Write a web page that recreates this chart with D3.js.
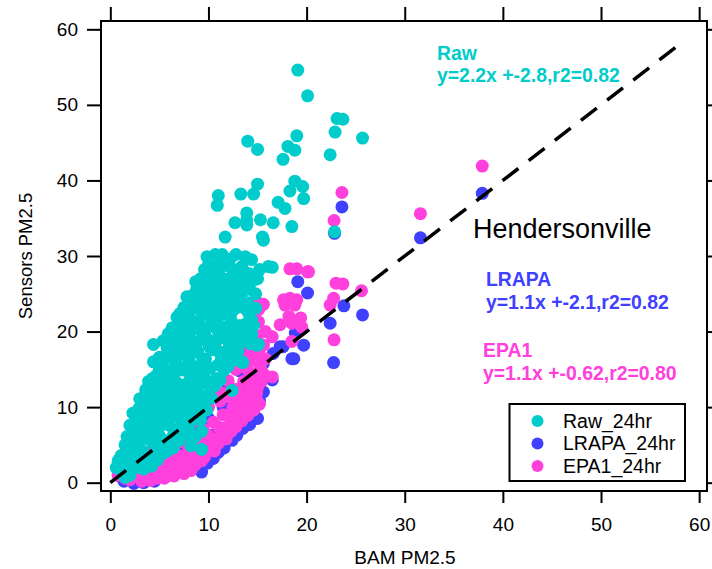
<!DOCTYPE html>
<html>
<head>
<meta charset="utf-8">
<script src="https://cdn.jsdelivr.net/npm/d3@7"></script>
<style>
  body { margin: 0; background: #fff; }
  text { font-family: "Liberation Sans", Arial, sans-serif; }
</style>
</head>
<body>
<div id="chart"></div>
<script>
// BAM vs sensor PM2.5, 24hr averages
const rawPts = [
  [0.8,2.8],[1.2,1.5],[1.6,2.4],[2.0,1.0],[2.2,3.2],[2.6,2.0],[3.0,2.8],[3.4,1.8],[1.1,3.6],[3.8,2.6],[4.2,2.2],[1.9,4.1],[1.5,0.7],[0.85,3.0],
  [1.4,2.0],[2.6,3.8],[3.5,3.4],[4.8,3.0],[5.8,4.2],[0.6,2.0],
  [1.5,5.0],[1.7,6.1],[2.4,4.6],[2.9,5.5],[3.3,4.2],[3.8,5.8],[4.4,3.6],[4.9,4.8],[5.4,3.9],[5.9,5.2],[2.3,6.8],[3.1,7.0],[4.2,6.6],[5.0,6.2],[6.4,4.6],[7.0,5.6],[8.2,4.9],[9.3,4.4],
  [1.9,5.6],[3.4,6.2],[4.4,5.2],[5.4,5.6],[6.4,6.2],[7.6,6.4],[8.6,6.0],[2.0,7.6],[3.8,7.6],[5.0,7.4],[6.8,7.0],[8.0,7.2],[9.3,6.8],
  [2.6,8.4],[3.4,8.7],[2.9,9.8],[3.9,9.4],[4.6,8.0],[5.3,9.0],[6.0,7.6],[6.6,8.8],[7.3,7.9],[7.8,9.6],[8.6,8.4],[9.2,8.3],[4.4,10.3],[5.8,10.6],[6.9,10.1],[8.3,10.4],[9.8,9.6],[3.0,11.1],
  [2.3,9.2],[3.2,10.2],[4.1,9.0],[5.0,10.0],[5.6,8.3],[6.3,9.6],[7.1,9.0],[7.4,10.8],[8.0,8.6],[8.9,9.3],[9.4,10.4],[3.6,10.8],[4.9,11.2],[6.3,11.2],[7.6,11.4],[8.8,11.0],[9.8,11.0],
  [3.6,12.3],[4.1,11.6],[4.8,12.8],[5.4,11.3],[6.2,12.4],[7.0,11.8],[7.7,13.0],[8.5,12.1],[9.3,11.5],[10.2,12.6],[10.3,11.2],[12.4,12.2],[3.9,13.4],[4.7,14.2],[5.5,13.9],[6.5,14.4],[7.4,14.9],[8.8,13.9],[9.6,14.6],[10.8,13.8],[11.6,14.9],
  [4.3,12.6],[5.2,12.0],[5.8,13.2],[6.8,13.2],[7.2,12.4],[8.1,13.6],[9.0,12.8],[9.8,13.4],[10.6,12.8],[11.2,13.6],[4.3,13.8],[5.0,15.0],[6.0,14.8],[6.9,15.4],[8.2,15.0],[9.0,15.4],[10.2,15.2],[11.0,15.6],[12.0,15.4],
  [4.4,16.0],[5.3,15.4],[5.8,16.6],[6.6,15.8],[7.2,17.0],[8.0,16.2],[8.9,17.4],[9.7,16.4],[10.5,17.6],[11.3,16.3],[12.6,16.2],[13.4,16.0],[13.5,15.9],[4.4,18.3],[5.8,17.8],[6.2,18.6],[7.9,18.6],[9.3,18.9],[10.9,18.9],[12.1,18.0],[13.0,17.4],[13.9,19.8],[13.6,19.8],[14.9,18.2],[15.1,18.3],
  [5.0,16.6],[6.2,17.2],[6.8,16.8],[7.6,17.8],[8.4,17.2],[9.4,16.2],[10.1,18.0],[11.0,17.4],[11.8,17.0],[12.4,17.6],[13.2,18.6],[14.2,18.4],[5.4,18.8],[7.0,18.2],[8.6,18.6],[9.9,19.0],[11.6,19.2],[12.6,19.4],[14.4,19.6],
  [5.9,19.7],[6.3,20.5],[6.8,19.4],[7.4,20.8],[8.2,20.0],[9.0,21.2],[9.8,20.4],[10.6,21.6],[11.5,20.6],[12.3,21.5],[13.2,20.8],[13.9,21.1],[6.8,21.9],[7.1,22.4],[8.0,22.6],[8.8,23.1],[9.7,22.8],[10.8,23.4],[11.8,22.8],[12.9,23.2],[14.1,22.4],[14.8,23.1],
  [6.4,19.8],[7.2,19.6],[8.6,20.6],[9.4,19.8],[10.2,20.8],[11.0,20.0],[12.0,20.2],[12.8,20.2],[14.6,20.8],[7.6,21.6],[8.4,21.4],[9.4,22.2],[10.2,22.0],[11.2,22.2],[12.4,22.6],[13.6,23.2],[14.4,21.6],
  [7.5,23.2],[8.4,23.8],[9.2,23.8],[10.2,24.0],[11.2,23.6],[12.2,24.0],[13.0,24.0],[14.0,23.8],
  [7.8,24.6],[8.4,24.8],[9.2,25.3],[9.85,24.4],[10.6,25.0],[11.5,24.6],[12.4,25.4],[13.3,24.8],[14.2,25.6],[8.7,26.6],[9.6,26.2],[10.7,26.9],[11.6,26.2],[12.5,26.9],[13.6,26.4],[14.6,26.8],[14.3,26.8],
  [8.8,25.6],[10.0,25.6],[11.0,25.8],[11.9,25.4],[12.8,26.0],[13.8,25.6],[14.8,25.0],[9.2,27.0],[10.2,26.6],[11.2,27.2],[12.0,27.0],[13.4,27.2],[15.0,27.0],
  [9.6,28.2],[10.4,27.6],[11.2,28.4],[12.2,28.6],[12.9,27.7],[14.1,27.7],[13.9,27.5],[12.5,27.3],[16.1,28.6],[16.5,28.5],[9.85,29.9],[10.7,30.2],[12.8,30.2],[13.75,29.9],[14.4,29.5],
  [10.0,28.8],[10.8,28.6],[11.6,29.2],[13.4,28.6],[15.2,28.2],[11.4,30.2],[12.2,29.6],
  [11.7,32.5],[15.5,32.5],[15.6,32.1],[12.7,34.4],[13.9,34.8],[13.9,34.1],[15.3,34.8],[16.6,34.4],[18.5,33.9],[13.9,35.7],[17.1,37.1],[17.8,36.3],
  [11.0,38.0],[10.9,36.7],[13.3,38.2],[14.6,38.2],[15.0,39.5],[18.3,38.6],[19.7,37.6],[18.8,39.9],[19.6,39.2],[17.6,42.8],[18.1,44.5],[18.8,44.0],
  [19.0,45.9],[14.0,45.2],[15.0,44.1],[22.4,43.4],[22.9,46.4],[23.1,48.2],[23.7,48.1],[25.7,45.6],[19.1,54.6],[20.1,51.2],[22.85,33.2]
];

const lrapaPts = [
  [0.9,0.9],[1.4,0.2],[1.9,0.5],[2.4,-0.1],[2.9,0.4],[3.4,0.0],[3.9,0.6],[4.5,0.2],[5.1,1.4],[5.7,1.6],[6.3,1.9],[6.9,2.0],[7.5,2.3],[8.1,2.4],[8.7,2.8],[9.3,1.4],
  [9.9,2.6],[10.5,3.2],[11.0,4.0],[11.6,4.6],[12.4,5.6],[12.9,6.3],[13.5,7.2],[14.2,7.7],[15.0,8.5],[14.6,9.6],[15.2,10.8],[15.6,12.0],[16.0,14.0],[16.5,13.6],
  [15.4,16.2],[15.6,15.8],[16.6,17.1],[17.3,18.0],[17.6,18.0],[18.5,16.4],[18.7,16.4],[19.7,18.2],[18.85,19.8],[14.9,19.3],[14.2,17.5],
  [2.5,1.5],[3.5,2.0],[4.5,2.6],[5.5,3.1],[6.5,3.6],[7.5,4.2],[8.5,4.8],[9.5,5.5],[10.5,6.3],[11.5,7.2],[12.5,8.1],[13.5,9.2],[14.0,10.5],
  [4.0,4.0],[5.5,5.0],[7.0,6.2],[8.5,7.3],[10.0,8.5],[11.5,10.0],[12.8,11.2],[13.8,12.6],[14.6,13.8],[9.0,10.2],[10.5,11.6],[12.0,13.0],[13.2,14.8],[14.0,16.0],
  [19.1,26.6],[20.1,25.1],[22.4,21.1],[22.75,15.9],[23.8,23.4],[25.7,22.2],[23.6,36.5],[22.85,33.0],[31.6,32.4],[37.9,38.3]
];

const epa1Pts = [
  [0.8,1.0],[1.5,0.6],[2.2,1.4],[3.0,0.8],[3.6,1.6],[4.1,0.3],[4.6,1.2],[5.2,1.9],[5.8,1.4],[6.4,2.4],[7.0,2.0],[7.5,1.2],[8.0,2.8],[8.6,2.3],[9.2,3.0],[9.3,2.9],
  [9.8,4.1],[10.2,5.2],[10.8,5.8],[11.4,6.6],[12.0,7.4],[12.6,8.3],[13.2,9.0],[13.8,9.8],[14.4,10.4],[14.9,10.9],[14.9,11.8],[14.3,12.6],[13.6,13.4],[14.8,13.8],
  [16.5,14.0],[15.3,15.2],[14.6,16.2],[15.1,17.4],[16.5,19.3],[15.0,19.4],[15.1,21.3],[15.1,22.9],[14.9,24.0],[18.5,18.7],[17.3,20.9],[18.5,21.1],[19.5,20.6],
  [18.2,22.0],[19.4,21.8],[17.8,23.5],[18.8,23.5],[17.65,24.2],[18.3,24.4],[19.0,24.2],
  [2.5,2.6],[3.5,3.2],[4.5,3.6],[5.5,4.2],[6.5,4.8],[7.5,5.4],[8.5,6.2],[9.5,7.0],[10.5,8.0],[11.5,9.0],[12.5,10.0],[13.5,11.2],
  [5.0,3.0],[6.0,3.5],[7.0,3.6],[8.0,4.5],[9.0,5.2],[10.0,6.2],[11.0,7.4],[12.0,8.8],[13.0,10.6],[11.0,12.0],[12.0,13.5],[12.8,15.0],[13.4,16.6],[14.0,18.2],[14.3,20.0],[14.5,21.8],[13.8,23.0],
  [1.2,1.8],[2.0,0.4],[2.8,2.0],[3.2,0.2],[4.0,2.2],[4.8,0.6],[5.5,2.6],[5.5,0.6],[6.2,1.0],[6.5,0.9],[6.8,3.0],[7.8,2.0],[7.6,3.0],[8.2,1.6],[8.4,3.6],[8.8,3.8],
  [9.0,4.2],[9.6,3.4],[10.0,4.6],[10.6,4.2],[11.0,5.2],[11.8,5.8],[12.3,6.8],[12.8,7.4],[13.4,8.2],[14.0,8.9],[14.6,9.6],[15.2,10.4],[15.0,12.6],[14.0,11.6],
  [15.4,13.4],[14.2,14.6],[15.6,14.4],[15.8,16.4],[13.8,15.2],[14.4,17.2],[15.6,18.2],[15.8,20.0],[15.6,23.6],[14.4,23.0],[10.0,10.0],[11.2,10.8],[11.6,11.8],
  [12.4,11.2],[13.0,12.4],[9.0,9.0],[8.4,8.0],[7.4,7.0],[6.4,6.0],[5.4,5.0],[4.4,4.6],[3.4,4.0],[2.4,3.4],
  [18.3,28.3],[19.0,28.3],[20.1,27.9],[20.2,27.9],[22.75,24.4],[22.4,23.5],[23.0,26.4],[23.7,26.3],[25.6,25.4],[22.8,18.9],[22.8,34.7],[23.6,38.4],[31.6,35.6],[37.9,41.9]
];

const xTicks = [0, 10, 20, 30, 40, 50, 60];
const yTicks = [0, 10, 20, 30, 40, 50, 60];
const seriesNames = ["Raw_24hr", "LRAPA_24hr", "EPA1_24hr"];
const seriesColors = ["rgb(0,204,204)", "rgb(64,64,255)", "rgb(255,64,221)"];
const fitNames = ["Raw", "LRAPA", "EPA1"];
const fitEqs = ["y=2.2x +-2.8,r2=0.82", "y=1.1x +-2.1,r2=0.82", "y=1.1x +-0.62,r2=0.80"];
const oneToOne = [0, 58.6];

const W = 712, H = 569;

const svg = d3.select("#chart").append("svg")
  .attr("width", W).attr("height", H);

const x = d3.scaleLinear().domain([-0.95, 60.8]).range([101, 707]);
const y = d3.scaleLinear().domain([-1.1, 61.1]).range([491, 21]);

// axes (frame drawn separately)
function styleAxis(g) {
  g.select(".domain").remove();
  g.selectAll(".tick line").attr("stroke", "#000").attr("stroke-width", 2);
  g.selectAll(".tick text").attr("fill", "#000").style("font-size", "19px")
    .style("font-family", '"Liberation Sans", Arial, sans-serif');
}

svg.append("g")
  .attr("transform", "translate(0,491)")
  .call(d3.axisBottom(x).tickValues(xTicks).tickSize(12).tickPadding(15))
  .call(styleAxis);

svg.append("g")
  .attr("transform", "translate(101,0)")
  .call(d3.axisLeft(y).tickValues(yTicks).tickSize(14).tickPadding(9))
  .call(styleAxis);

svg.append("g")
  .attr("transform", "translate(0,21)")
  .call(d3.axisTop(x).tickValues(xTicks).tickSize(14).tickFormat(""))
  .call(styleAxis);

svg.append("g")
  .attr("transform", "translate(707,0)")
  .call(d3.axisRight(y).tickValues(yTicks).tickSize(14).tickFormat(""))
  .call(styleAxis);

// points: LRAPA under EPA1 under Raw
const layers = [
  {pts: lrapaPts, color: seriesColors[1]},
  {pts: epa1Pts, color: seriesColors[2]},
  {pts: rawPts, color: seriesColors[0]}
];

layers.forEach(l => {
  svg.append("g").selectAll("circle")
    .data(l.pts)
    .join("circle")
    .attr("cx", d => x(d[0]))
    .attr("cy", d => y(d[1]))
    .attr("r", 6.5)
    .attr("fill", l.color);
});

// 1:1 line
svg.append("line")
  .attr("x1", x(oneToOne[0])).attr("y1", y(oneToOne[0]))
  .attr("x2", x(oneToOne[1])).attr("y2", y(oneToOne[1]))
  .attr("stroke", "#000")
  .attr("stroke-width", 3.5)
  .attr("stroke-dasharray", "20,13");

// frame
svg.append("rect")
  .attr("x", 101).attr("y", 21)
  .attr("width", 606).attr("height", 470)
  .attr("fill", "none")
  .attr("stroke", "#000")
  .attr("stroke-width", 2);

// fit annotations
const fitPos = [[437, 60, 82], [486, 286, 309], [483, 357, 380]];
fitNames.forEach((n, i) => {
  svg.append("text")
    .attr("x", fitPos[i][0]).attr("y", fitPos[i][1])
    .attr("fill", seriesColors[i])
    .style("font-size", "19.4px").style("font-weight", "bold")
    .text(n);
  svg.append("text")
    .attr("x", fitPos[i][0]).attr("y", fitPos[i][2])
    .attr("fill", seriesColors[i])
    .style("font-size", "19.4px").style("font-weight", "bold")
    .text(fitEqs[i]);
});

svg.append("text")
  .attr("x", 473).attr("y", 238)
  .attr("fill", "#000")
  .style("font-size", "27px")
  .text("Hendersonville");

// axis titles
svg.append("text")
  .attr("x", 405).attr("y", 564)
  .attr("text-anchor", "middle")
  .style("font-size", "19px")
  .text("BAM PM2.5");

svg.append("text")
  .attr("transform", "translate(32,256) rotate(-90)")
  .attr("text-anchor", "middle")
  .style("font-size", "18.5px")
  .text("Sensors PM2.5");

// legend
const legend = svg.append("g");
legend.append("rect")
  .attr("x", 509.5).attr("y", 404)
  .attr("width", 175.5).attr("height", 77)
  .attr("fill", "#fff")
  .attr("stroke", "#000")
  .attr("stroke-width", 2);

seriesNames.forEach((n, i) => {
  const cy = 421 + i * 22.5;
  legend.append("circle")
    .attr("cx", 537.5).attr("cy", cy).attr("r", 6)
    .attr("fill", seriesColors[i]);
  legend.append("text")
    .attr("x", 563).attr("y", cy + 6.5)
    .style("font-size", "19.5px")
    .text(n);
});
</script>
</body>
</html>
